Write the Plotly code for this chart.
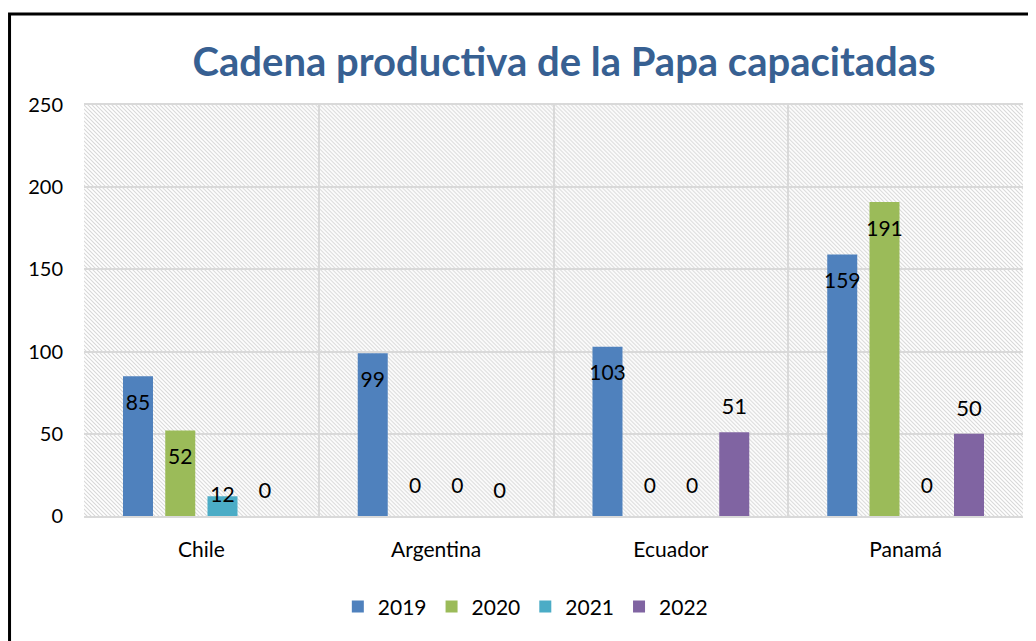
import base64
import plotly.graph_objects as go

categories = ["Chile", "Argentina", "Ecuador", "Panamá"]
series_names = ["2019", "2020", "2021", "2022"]
values_2019 = [85, 99, 103, 159]
values_2020 = [52, 0, 0, 191]
values_2021 = [12, 0, 0, 0]
values_2022 = [0, 0, 51, 50]
y_ticks = [0, 50, 100, 150, 200, 250]

colors = ["#4F81BD", "#9BBB59", "#4BACC6", "#8064A2"]
all_values = [values_2019, values_2020, values_2021, values_2022]

FONT = "Lato"

fig = go.Figure()

for name, vals, col in zip(series_names, all_values, colors):
    fig.add_trace(go.Bar(
        x=categories, y=vals, name=name, offsetgroup=name,
        marker=dict(color=col, line=dict(width=0)),
        hoverinfo="skip",
    ))

# data labels (aligned with bar groups)
for i, (name, vals) in enumerate(zip(series_names, all_values)):
    if name == "2022":
        pos = ["top center" for v in vals]
        size = 22
        msize = 18
    else:
        pos = []
        for v in vals:
            if v >= 30:
                pos.append("bottom center")
            elif v == 0:
                pos.append("top center")
            else:
                pos.append("middle center")
        size = 21
        msize = 27
    fig.add_trace(go.Scatter(
        x=categories, y=vals, mode="markers+text", text=[str(v) for v in vals],
        textposition=pos, offsetgroup=name, showlegend=False, hoverinfo="skip",
        marker=dict(size=msize, color="rgba(0,0,0,0)"),
        textfont=dict(family=FONT, size=size, color="#000000"),
        cliponaxis=False,
    ))

# hatched plot-area background
W, H = 940, 411
svg = f'''<svg xmlns="http://www.w3.org/2000/svg" width="{W}" height="{H}">
<defs><pattern id="p" patternUnits="userSpaceOnUse" width="4" height="4">
<path d="M-1,-1 L5,5 M3,-1 L5,1 M-1,3 L1,5" stroke="#D8D8D8" stroke-width="1.1"/>
</pattern></defs>
<rect width="{W}" height="{H}" fill="white"/>
<rect width="{W}" height="{H}" fill="url(#p)"/>
</svg>'''
src = "data:image/svg+xml;base64," + base64.b64encode(svg.encode()).decode()

fig.update_layout(
    width=1028, height=633,
    margin=dict(l=76, r=13, t=97, b=125),
    paper_bgcolor="white", plot_bgcolor="rgba(0,0,0,0)",
    barmode="group", bargap=0.28, bargroupgap=0.29,
    scattermode="group", scattergap=0.28,
    font=dict(family=FONT, color="#000000"),
    title=dict(text="<b>Cadena productiva de la Papa capacitadas</b>",
               x=0.541, xanchor="center", y=0.915, yanchor="middle",
               font=dict(family=FONT, size=40, color="#376092")),
    images=[dict(source=src, xref="paper", yref="paper", x=0, y=1,
                 sizex=1, sizey=1, sizing="stretch", layer="below",
                 xanchor="left", yanchor="top")],
    legend=dict(orientation="h", x=0.47, xanchor="center", y=-0.221, yanchor="middle",
                font=dict(family=FONT, size=21), itemwidth=30, bgcolor="rgba(0,0,0,0)"),
    xaxis=dict(type="category", tickson="boundaries", showgrid=True,
               gridcolor="#D9D9D9", gridwidth=2, ticks="", showline=True,
               linecolor="#D9D9D9", linewidth=2, mirror=True,
               tickfont=dict(family=FONT, size=21), ticklabelstandoff=14),
    yaxis=dict(range=[0, 250], tickvals=y_ticks, showgrid=True,
               gridcolor="#D9D9D9", gridwidth=2, zeroline=False, ticks="",
               showline=False,
               tickfont=dict(family=FONT, size=20), ticklabelstandoff=20),
    shapes=[dict(type="rect", xref="paper", yref="paper",
                 x0=-0.0793, x1=1.03, y0=-0.33, y1=1.2214,
                 line=dict(color="black", width=3), fillcolor="rgba(0,0,0,0)",
                 layer="above")],
)

fig.write_html("out.html")
